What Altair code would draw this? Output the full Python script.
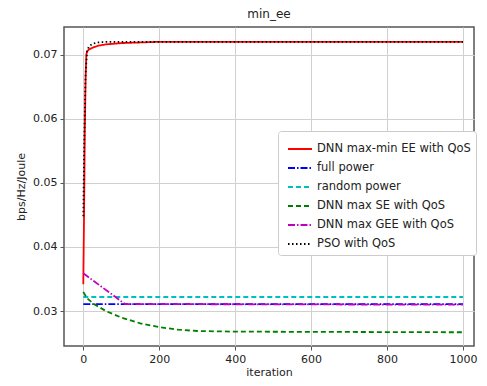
import altair as alt
import pandas as pd

# ---- data ----
names = ["DNN max-min EE with QoS", "full power", "random power",
         "DNN max SE with QoS", "DNN max GEE with QoS", "PSO with QoS"]

red_x = [0, 2, 4, 6, 8, 10, 15, 25, 40, 60, 100, 150, 200, 300, 1000]
red_y = [0.0342, 0.045, 0.058, 0.066, 0.0700, 0.0705, 0.0708, 0.0711, 0.0714, 0.0716, 0.0718, 0.0719, 0.0720, 0.0720, 0.0720]

full_x = [0, 1000]
full_y = [0.0311, 0.0311]

rand_x = [0, 1000]
rand_y = [0.0322, 0.0322]

se_x = [0, 10, 28, 60, 100, 150, 200, 250, 300, 400, 1000]
se_y = [0.0330, 0.0320, 0.0311, 0.0300, 0.0290, 0.0281, 0.0275, 0.0271, 0.0269, 0.0268, 0.0267]

gee_x = [0, 110, 1000]
gee_y = [0.0359, 0.0311, 0.0310]

pso_x = [0, 3, 6, 10, 15, 25, 40, 60, 100, 1000]
pso_y = [0.0448, 0.058, 0.067, 0.0705, 0.0713, 0.0717, 0.0719, 0.0720, 0.0720, 0.0720]

colors = ["#ff0000", "#0000ff", "#00bfbf", "#008000", "#bf00bf", "#000000"]
dashes = [[1, 0], [7, 2, 1.5, 2], [5, 3], [5, 3], [7, 2, 1.5, 2], [1.5, 2.5]]

xs = [red_x, full_x, rand_x, se_x, gee_x, pso_x]
ys = [red_y, full_y, rand_y, se_y, gee_y, pso_y]

rows = []
for i, (n, xx, yy) in enumerate(zip(names, xs, ys)):
    for a, b in zip(xx, yy):
        rows.append({"series": n, "iteration": a, "value": b, "order": i})
df = pd.DataFrame(rows)

chart = alt.Chart(df).mark_line(strokeWidth=1.8, clip=True).encode(
    x=alt.X("iteration:Q", title="iteration",
            scale=alt.Scale(domain=[-50.8, 1029], nice=False, zero=False),
            axis=alt.Axis(values=[0, 200, 400, 600, 800, 1000], format="d")),
    y=alt.Y("value:Q", title="bps/Hz/Joule",
            scale=alt.Scale(domain=[0.02456, 0.07431], nice=False, zero=False),
            axis=alt.Axis(values=[0.03, 0.04, 0.05, 0.06, 0.07], format=".2f")),
    color=alt.Color("series:N", scale=alt.Scale(domain=names, range=colors),
                    legend=alt.Legend(title=None, orient="none", legendX=214, legendY=104,
                                      symbolType="stroke", symbolSize=576, symbolStrokeWidth=1.8,
                                      labelFontSize=11.5, labelFont="DejaVu Sans", labelColor="#222",
                                      rowPadding=-1, symbolOffset=4,
                                      fillColor="white", strokeColor="#ccc", padding=5,
                                      cornerRadius=3, labelLimit=300)),
    strokeDash=alt.StrokeDash("series:N", scale=alt.Scale(domain=names, range=dashes), legend=None),
    detail="series:N",
    order="iteration:Q",
).properties(
    width=410, height=319,
    title=alt.TitleParams("min_ee", fontSize=12, font="DejaVu Sans", fontWeight="normal",
                          color="#222", offset=6),
    autosize=alt.AutoSizeParams(type="none"),
    padding={"left": 56, "top": 19, "right": 5, "bottom": 32},
).configure_view(
    stroke="#555", strokeWidth=1.5
).configure_axis(
    grid=True, gridColor="#d0d0d0", gridWidth=1,
    domain=False, tickColor="#555", tickSize=4, tickWidth=1,
    labelFont="DejaVu Sans", labelFontSize=11, labelColor="#222", labelPadding=3,
    titleFont="DejaVu Sans", titleFontSize=11, titleFontWeight="normal", titleColor="#222"
).configure_axisY(titlePadding=6).configure_axisX(titlePadding=2)

chart.save("out.html", embed_options={"renderer": "svg", "actions": False})
